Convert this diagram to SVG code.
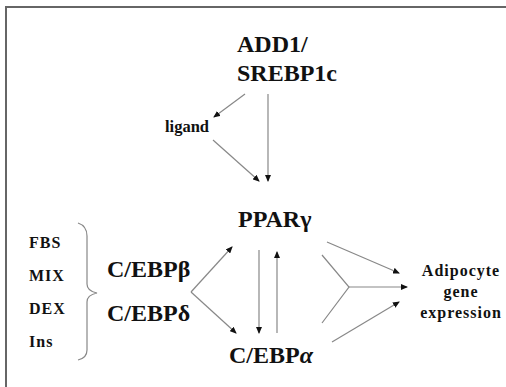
<svg xmlns="http://www.w3.org/2000/svg" width="506" height="387" viewBox="0 0 506 387">
<style>
.big{font-size:24px}
.sm{font-size:16px;letter-spacing:1px}
.lig{font-size:16.5px}
.c{stroke:#888;stroke-width:1.2;fill:none}
</style>
<defs>
<marker id="ah" markerUnits="userSpaceOnUse" markerWidth="7" markerHeight="6" refX="6" refY="3" orient="auto">
<path d="M0,0 L7,3 L0,6 Z" fill="#111"/>
</marker>
</defs>
<rect x="6" y="7" width="520" height="400" fill="#fff" stroke="#666" stroke-width="2"/>
<g font-family="Liberation Serif, DejaVu Serif, serif" font-weight="bold" fill="#111">
<g id="add1"><text class="big" x="237" y="52">ADD1/</text><text class="big" x="237" y="81">SREBP1c</text></g>
<g id="ligand"><text class="lig" x="165" y="132">ligand</text></g>
<g id="ppar"><text class="big" x="238" y="227">PPARγ</text></g>
<g id="factors">
<text class="sm" x="29" y="248">FBS</text>
<text class="sm" x="29" y="281">MIX</text>
<text class="sm" x="29" y="314">DEX</text>
<text class="sm" x="29" y="347">Ins</text>
</g>
<g id="cebpbd"><text class="big" x="107" y="277">C/EBPβ</text><text class="big" x="107" y="321">C/EBPδ</text></g>
<g id="cebpa"><text class="big" x="229" y="363">C/EBP<tspan font-style="italic">α</tspan></text></g>
<g id="adipocyte">
<text class="sm" x="461" y="276" text-anchor="middle">Adipocyte</text>
<text class="sm" x="461" y="297" text-anchor="middle">gene</text>
<text class="sm" x="461" y="318" text-anchor="middle">expression</text>
</g>
</g>
<g id="brace"><path class="c" d="M78,223 Q87,226 87,236 L87,284 Q87,291 97,293 Q87,295 87,302 L87,350 Q87,358 78,360"/></g>
<g id="connectors">
<line class="c" x1="245" y1="94" x2="214" y2="117" marker-end="url(#ah)"/>
<line class="c" x1="268" y1="94" x2="268" y2="181" marker-end="url(#ah)"/>
<line class="c" x1="213" y1="140" x2="259" y2="181" marker-end="url(#ah)"/>
<line class="c" x1="191" y1="292" x2="232" y2="247" marker-end="url(#ah)"/>
<line class="c" x1="191" y1="292" x2="236" y2="333" marker-end="url(#ah)"/>
<line class="c" x1="259" y1="250" x2="259" y2="333" marker-end="url(#ah)"/>
<line class="c" x1="277" y1="333" x2="277" y2="252" marker-end="url(#ah)"/>
<line class="c" x1="327" y1="242" x2="399" y2="273" marker-end="url(#ah)"/>
<path class="c" d="M322,255 L349,287 L322,323"/>
<line class="c" x1="349" y1="287" x2="407" y2="287" marker-end="url(#ah)"/>
<line class="c" x1="332" y1="342" x2="399" y2="302" marker-end="url(#ah)"/>
</g>
</svg>
